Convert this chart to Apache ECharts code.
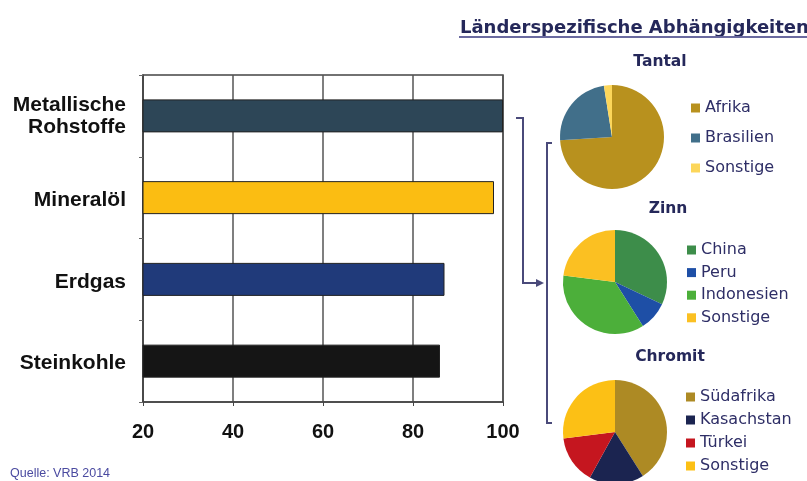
<!DOCTYPE html>
<html>
<head>
<meta charset="utf-8">
<script src="https://cdn.jsdelivr.net/npm/echarts@6/dist/echarts.min.js"></script>
<style>html,body{margin:0;padding:0;background:#fff;}#c{width:807px;height:481px;}</style>
</head>
<body>
<div id="c"></div>
<script>
// ---- data ----
var barCategories = ['Metallische\nRohstoffe', 'Mineralöl', 'Erdgas', 'Steinkohle'];
var barValues = [100, 98, 87, 86];
var barColors = ['#2d4657', '#fbbd12', '#203a7a', '#151515'];
var xTicks = [20, 40, 60, 80, 100];

var tantalNames = ['Afrika', 'Brasilien', 'Sonstige'];
var tantalValues = [74, 23.5, 2.5];
var tantalColors = ['#b8911e', '#416f8a', '#fcd65a'];

var zinnNames = ['China', 'Peru', 'Indonesien', 'Sonstige'];
var zinnValues = [32, 9, 36, 23];
var zinnColors = ['#3d8d4a', '#1e4fa6', '#4caf3a', '#fbc022'];

var chromitNames = ['Südafrika', 'Kasachstan', 'Türkei', 'Sonstige'];
var chromitValues = [41, 17, 15, 27];
var chromitColors = ['#ad8a24', '#1b2450', '#c5161f', '#fcc015'];

var mainTitle = 'Länderspezifische Abhängigkeiten';
var pieTitles = ['Tantal', 'Zinn', 'Chromit'];
var sourceText = 'Quelle: VRB 2014';

// ---- build ----
function tag(names, k) { return names.map(function (n) { return n + '|' + k; }); }
function pieData(names, values, colors, k) {
  return names.map(function (n, i) {
    return { name: n + '|' + k, value: values[i], itemStyle: { color: colors[i] } };
  });
}
var legendText = { fontFamily: 'DejaVu Sans', fontSize: 16, color: '#2e2e66' };
function stripName(n) { return n.split('|')[0]; }
function catLabel(v) {
  return v.split('\n').map(function (s, i) { return (i === 0 ? '{a|' : '{b|') + s + '}'; }).join('\n');
}
var catFont = { fontFamily: 'Liberation Sans', fontWeight: 'bold', fontSize: 21, color: '#111', lineHeight: 23, align: 'right' };

var navy = '#4a4a7a';
var chart = echarts.init(document.getElementById('c'));
chart.setOption({
  animation: false,
  backgroundColor: '#fff',
  grid: { left: 143, right: 304, top: 75, bottom: 79, show: true, borderColor: '#444', borderWidth: 1.5 },
  xAxis: {
    type: 'value', min: 20, max: 100, interval: 20,
    axisLine: { show: true, lineStyle: { color: '#444', width: 1.5 } },
    axisTick: { show: true, length: 4, lineStyle: { color: '#444' } },
    splitLine: { show: true, lineStyle: { color: '#555', width: 1.5 } },
    axisLabel: { margin: 20, fontFamily: 'Liberation Sans', fontWeight: 'bold', fontSize: 20, color: '#111',
      formatter: function (v) { return xTicks.indexOf(v) >= 0 ? String(v) : ''; } }
  },
  yAxis: {
    type: 'category', inverse: true, data: barCategories,
    axisLine: { show: true, lineStyle: { color: '#444', width: 1.5 } },
    axisTick: { show: true, length: 4, lineStyle: { color: '#666' } },
    axisLabel: {
      margin: 17, fontFamily: 'Liberation Sans', fontWeight: 'bold', fontSize: 21, color: '#111', align: 'right',
      formatter: catLabel,
      rich: {
        a: Object.assign({ padding: [5, 0, 0, 0] }, catFont),
        b: Object.assign({}, catFont, { lineHeight: 26 })
      }
    }
  },
  series: [
    {
      type: 'bar', barWidth: 33,
      data: barValues.map(function (v, i) { return { value: v, itemStyle: { color: barColors[i], borderColor: '#222', borderWidth: 1 } }; })
    },
    { type: 'pie', center: [612, 137], radius: 52, startAngle: 90, label: { show: false }, labelLine: { show: false },
      data: pieData(tantalNames, tantalValues, tantalColors, 1) },
    { type: 'pie', center: [615, 282], radius: 52, startAngle: 90, label: { show: false }, labelLine: { show: false },
      data: pieData(zinnNames, zinnValues, zinnColors, 2) },
    { type: 'pie', center: [615, 432], radius: 52, startAngle: 90, label: { show: false }, labelLine: { show: false },
      data: pieData(chromitNames, chromitValues, chromitColors, 3) }
  ],
  legend: [
    { orient: 'vertical', left: 691, top: 100, padding: 0, itemWidth: 9, itemHeight: 9, itemGap: 14, icon: 'rect',
      data: tag(tantalNames, 1), formatter: stripName, textStyle: legendText },
    { orient: 'vertical', left: 687, top: 242, padding: 0, itemWidth: 9, itemHeight: 9, itemGap: 6.6, icon: 'rect',
      data: tag(zinnNames, 2), formatter: stripName, textStyle: legendText },
    { orient: 'vertical', left: 686, top: 389, padding: 0, height: 92, itemWidth: 9, itemHeight: 9, itemGap: 7, icon: 'rect',
      data: tag(chromitNames, 3), formatter: stripName, textStyle: legendText }
  ],
  graphic: [
    { type: 'text', left: 460, top: 19, style: { text: mainTitle, font: 'bold 18px DejaVu Sans', fill: '#25285a' } },
    { type: 'line', shape: { x1: 459, y1: 37, x2: 807, y2: 37 }, style: { stroke: '#6a6aa0', lineWidth: 2 } },
    { type: 'text', x: 660, y: 62, style: { text: pieTitles[0], font: 'bold 15.5px DejaVu Sans', fill: '#25285a', align: 'center', verticalAlign: 'middle' } },
    { type: 'text', x: 668, y: 209, style: { text: pieTitles[1], font: 'bold 15.5px DejaVu Sans', fill: '#25285a', align: 'center', verticalAlign: 'middle' } },
    { type: 'text', x: 670, y: 357, style: { text: pieTitles[2], font: 'bold 15.5px DejaVu Sans', fill: '#25285a', align: 'center', verticalAlign: 'middle' } },
    { type: 'polyline', shape: { points: [[516, 118], [523, 118], [523, 283], [540, 283]] }, style: { stroke: navy, lineWidth: 2, fill: null } },
    { type: 'polygon', shape: { points: [[544, 283], [536, 279], [536, 287]] }, style: { fill: navy } },
    { type: 'polyline', shape: { points: [[552, 143], [547, 143], [547, 423], [552, 423]] }, style: { stroke: navy, lineWidth: 2, fill: null } },
    { type: 'text', left: 10, top: 467, style: { text: sourceText, font: '12.5px Liberation Sans', fill: '#4a4aa0' } }
  ]
});
</script>
</body>
</html>
